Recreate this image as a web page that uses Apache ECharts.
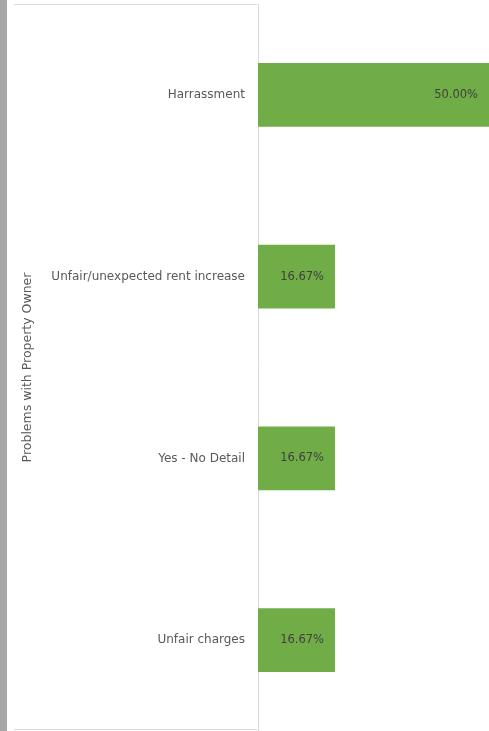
<!DOCTYPE html>
<html>
<head>
<meta charset="utf-8">
<script src="https://cdn.jsdelivr.net/npm/echarts@6/dist/echarts.min.js"></script>
<style>
  html, body { margin: 0; padding: 0; background: #ffffff; }
  #chart { width: 489px; height: 731px; }
</style>
</head>
<body>
<div id="chart"></div>
<script>
// Categories listed bottom to top (category axis on y grows upward)
const categories = ['Unfair charges', 'Yes - No Detail', 'Unfair/unexpected rent increase', 'Harrassment'];
const shares = [16.67, 16.67, 16.67, 50.00];
const axisTitle = 'Problems with Property Owner';

const chart = echarts.init(document.getElementById('chart'), null, { renderer: 'canvas' });

const textFont = 'DejaVu Sans';

chart.setOption({
  animation: false,
  backgroundColor: '#ffffff',
  graphic: [
    // grey edge strip on the left
    { type: 'rect', shape: { x: 0, y: 0, width: 7, height: 731 }, style: { fill: '#a6a6a6' }, silent: true },
    // frame lines around the label area
    { type: 'line', shape: { x1: 14, y1: 4.5, x2: 257, y2: 4.5 }, style: { stroke: '#d9d9d9', lineWidth: 1 }, silent: true },
    { type: 'line', shape: { x1: 14, y1: 729.5, x2: 257, y2: 729.5 }, style: { stroke: '#d9d9d9', lineWidth: 1 }, silent: true }
  ],
  grid: { left: 258, right: 0, top: 4, bottom: 0, containLabel: false },
  xAxis: {
    type: 'value',
    min: 0,
    max: 50,
    show: false
  },
  yAxis: {
    type: 'category',
    data: categories,
    name: axisTitle,
    nameLocation: 'middle',
    nameRotate: 90,
    nameGap: 224,
    nameTextStyle: { color: '#595959', fontSize: 12.5, fontFamily: textFont },
    axisLine: { show: true, lineStyle: { color: '#d9d9d9', width: 1 } },
    axisTick: { show: false },
    axisLabel: { color: '#595959', fontSize: 12, fontFamily: textFont, margin: 13 },
    splitLine: { show: false }
  },
  series: [{
    type: 'bar',
    data: shares,
    barWidth: '35%',
    itemStyle: { color: '#70ad47' },
    label: {
      show: true,
      position: 'insideRight',
      distance: 11,
      color: '#404040',
      fontSize: 11.5,
      fontFamily: textFont,
      formatter: p => p.value.toFixed(2) + '%'
    }
  }]
});
</script>
</body>
</html>
